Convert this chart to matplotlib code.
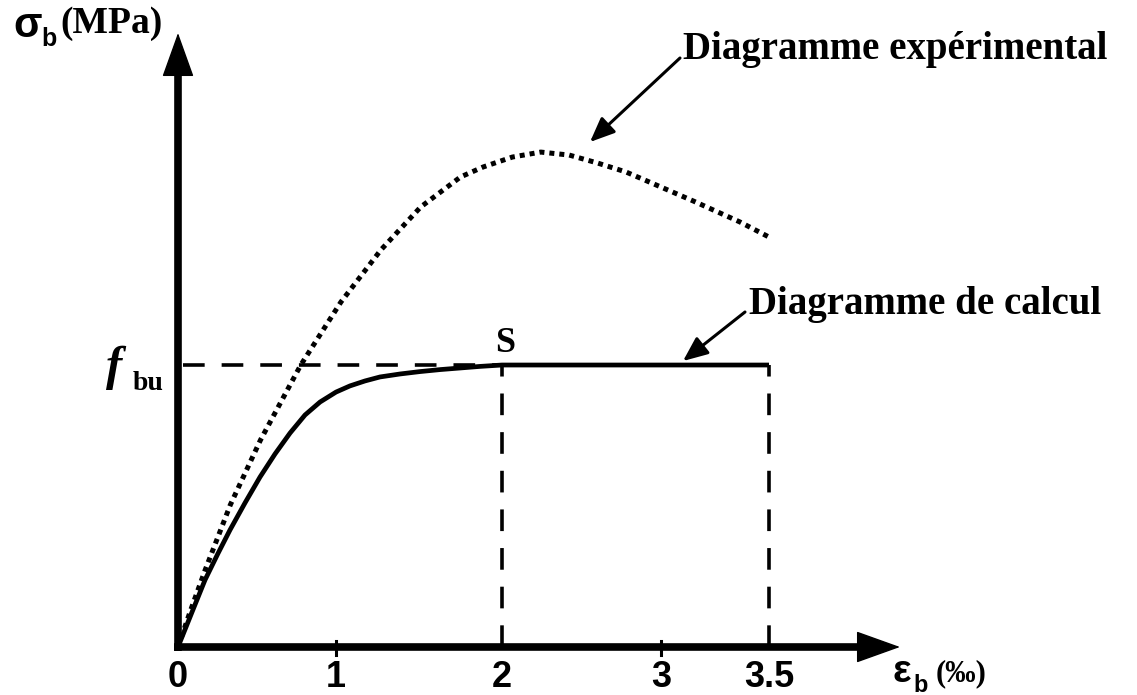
# -*- coding: utf-8 -*-

# Diagramme contrainte-déformation du béton (expérimental et de calcul)

import numpy as np
import matplotlib.pyplot as plt

W, H = 1137, 695

# courbe expérimentale (déformation en ‰, contrainte en MPa)
eps_exp = [0, 0.076, 0.172, 0.331, 0.522, 0.777, 1.03, 1.27, 1.51, 1.75, 1.886,
           2.065, 2.244, 2.423, 2.601, 2.78, 2.94, 3.15, 3.365, 3.5]
sig_exp = [0, 1.76, 3.87, 7.14, 10.40, 14.17, 17.34, 19.95, 22.11, 23.62, 24.12,
           24.62, 24.87, 24.72, 24.32, 23.87, 23.32, 22.41, 21.36, 20.60]

# diagramme de calcul (parabole puis palier)
eps_cal = [0, 0.089, 0.171, 0.253, 0.329, 0.424, 0.519, 0.614, 0.709, 0.804, 0.899,
           1.0, 1.084, 1.175, 1.265, 1.386, 1.506, 1.627, 1.747, 1.867, 2.0, 3.5]
sig_cal = [0, 1.76, 3.37, 4.70, 5.88, 7.24, 8.54, 9.70, 10.75, 11.66, 12.31,
           12.81, 13.12, 13.37, 13.57, 13.72, 13.84, 13.94, 14.02, 14.10, 14.17, 14.17]

fbu = 14.17
eps_s = 2.0
eps_u = 3.5

xticks = [0, 1, 2, 3, 3.5]
xlabels = ['0', '1', '2', '3', '3.5']

# échelle horizontale du schéma (pas tout à fait linéaire)
XK_EPS = [-2, 0, 1, 2, 3, 3.5, 6]
XK_PX = [-136, 178, 336, 502, 661, 769, 1309]


def fwd(e):
    return np.interp(e, XK_EPS, XK_PX)


def inv(p):
    return np.interp(p, XK_PX, XK_EPS)


PX_MPA = 19.9
Y0 = 647

SERIF = 'Liberation Serif'
SANS = 'Liberation Sans'

fig = plt.figure(figsize=(W / 100, H / 100), dpi=100)
ax = fig.add_axes([0, 0, 1, 1])
ax.set_xscale('function', functions=(fwd, inv))
ax.set_xlim(inv(0), inv(W))
ax.set_ylim((Y0 - H) / PX_MPA, Y0 / PX_MPA)
ax.axis('off')


def px(x, y):
    return x / W, 1 - y / H


# axes avec flèches
x_tip = inv(900)
y_tip = (Y0 - 33) / PX_MPA
ax.plot([inv(174), inv(860)], [0, 0], color='k', lw=5.5, solid_capstyle='butt')
ax.plot([0, 0], [-0.2, (Y0 - 70) / PX_MPA], color='k', lw=5.5, solid_capstyle='butt')
head = dict(arrowstyle='-|>,head_length=1.45,head_width=0.52', color='k', lw=1,
            mutation_scale=20, shrinkA=0, shrinkB=0)
ax.annotate('', xy=(x_tip, 0), xytext=(inv(845), 0), arrowprops=head)
ax.annotate('', xy=(0, y_tip), xytext=(0, (Y0 - 85) / PX_MPA), arrowprops=head)

# petites graduations
for t in [1, 3]:
    ax.plot([t, t], [-0.4, 0.3], color='k', lw=2.2)

# pointillés de repère
ax.plot([0.03, eps_s], [fbu, fbu], color='k', lw=2.6, linestyle=(0, (6, 4.7)))
for e in [eps_s, eps_u]:
    ax.plot([e, e], [0, fbu], color='k', lw=2.6, linestyle=(0, (6, 4.7)))

# courbes
ax.plot(eps_exp, sig_exp, color='k', lw=3.6, linestyle=(0, (1, 1)))
ax.plot(eps_cal, sig_cal, color='k', lw=3.4, solid_capstyle='butt',
        solid_joinstyle='round')

# flèches des légendes
small = dict(arrowstyle='-|>,head_length=0.75,head_width=0.32', color='k', lw=2.2,
             mutation_scale=20, shrinkA=0, shrinkB=0)
ax.annotate('', xy=(inv(590), (Y0 - 142) / PX_MPA),
            xytext=(inv(680), (Y0 - 58) / PX_MPA), arrowprops=small)
ax.annotate('', xy=(inv(683), fbu + 0.2),
            xytext=(inv(745), (Y0 - 312) / PX_MPA), arrowprops=small)

fig.text(*px(683, 50), 'Diagramme expérimental', family=SERIF, weight='bold',
         fontsize=28, ha='left', va='center')
fig.text(*px(749, 305), 'Diagramme de calcul', family=SERIF, weight='bold',
         fontsize=28, ha='left', va='center')
fig.text(*px(505, 343), 'S', family=SERIF, weight='bold', fontsize=26,
         ha='center', va='center')

# graduations de l'axe des déformations
for t, lab in zip(xticks, xlabels):
    ax.text(t, (Y0 - 687) / PX_MPA, lab, family=SANS, weight='bold', fontsize=26,
            ha='center', va='baseline')

# titres des axes
fig.text(*px(13, 37), 'σ', family=SANS, weight='bold', fontsize=30, va='baseline')
fig.text(*px(41, 46), 'b', family=SANS, weight='bold', fontsize=18, va='baseline')
fig.text(*px(60, 33), '(MPa)', family=SERIF, weight='bold', fontsize=27, va='baseline')

fig.text(*px(893, 682), 'ε', family=SANS, weight='bold', fontsize=28, va='baseline')
fig.text(*px(913, 692), 'b', family=SANS, weight='bold', fontsize=17, va='baseline')
fig.text(*px(936, 681), '(‰)', family=SERIF, weight='bold', fontsize=22, va='baseline')

fig.text(*px(106, 380), 'f', family=SERIF, weight='bold', style='italic',
         fontsize=35, va='baseline')
fig.text(*px(133, 390), 'bu', family=SERIF, weight='bold', fontsize=20, va='baseline')

fig.savefig('out.png', dpi=100)
